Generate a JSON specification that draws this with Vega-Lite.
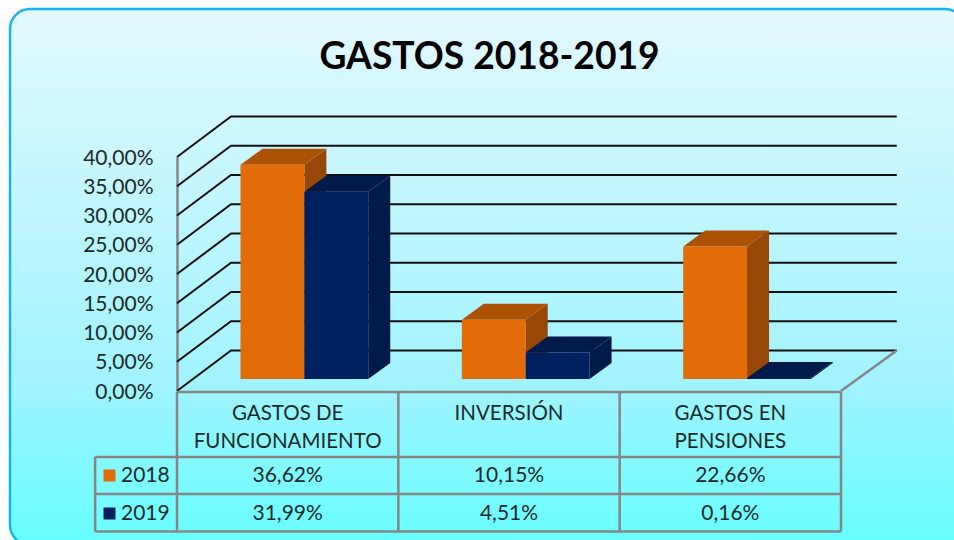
{
"$schema":"https://vega.github.io/schema/vega-lite/v6.json",
"width":955,"height":536,
"padding":{"left":10,"top":9,"right":0,"bottom":0},
"autosize":"none",
"background":"#ffffff",
"view":{"cornerRadius":20,"stroke":"#14b4f0","strokeWidth":2.5,"fill":{"x1":0,"y1":0,"x2":0,"y2":1,"gradient":"linear","stops":[{"offset":0,"color":"#e3f8ff"},{"offset":0.7,"color":"#a0f3ff"},{"offset":1,"color":"#66ffff"}]}},
"title":{"text":"GASTOS 2018-2019","font":"Lato","fontSize":37.2,"fontWeight":"bold","color":"#000000","anchor":"middle","offset":-68,"dx":2},
"datasets":{
"gastos":[
{"categoria":"GASTOS DE FUNCIONAMIENTO","serie":"2018","valor":36.62},
{"categoria":"GASTOS DE FUNCIONAMIENTO","serie":"2019","valor":31.99},
{"categoria":"INVERSIÓN","serie":"2018","valor":10.15},
{"categoria":"INVERSIÓN","serie":"2019","valor":4.51},
{"categoria":"GASTOS EN PENSIONES","serie":"2018","valor":22.66},
{"categoria":"GASTOS EN PENSIONES","serie":"2019","valor":0.16}],
"niveles":[{"nivel":0},{"nivel":5},{"nivel":10},{"nivel":15},{"nivel":20},{"nivel":25},{"nivel":30},{"nivel":35},{"nivel":40}],
"encabezados":[
{"categoria":"GASTOS DE FUNCIONAMIENTO","lineas":["GASTOS DE","FUNCIONAMIENTO"]},
{"categoria":"INVERSIÓN","lineas":["INVERSIÓN"]},
{"categoria":"GASTOS EN PENSIONES","lineas":["GASTOS EN","PENSIONES"]}],
"lineasH":[{"linea":"superior"},{"linea":"cabecera"},{"linea":"2018"},{"linea":"2019"}],
"lineasV":[{"columna":"leyenda"},{"columna":"c0"},{"columna":"c1"},{"columna":"c2"},{"columna":"c3"}]
},
"data":{"name":"gastos"},
"transform":[
{"calculate":"indexof(['GASTOS DE FUNCIONAMIENTO','INVERSIÓN','GASTOS EN PENSIONES'],datum.categoria)","as":"idx"},
{"calculate":"datum.idx+0.287+(datum.serie=='2019'?0.2885:0)","as":"xl"},
{"calculate":"datum.xl+0.2885","as":"xr"},
{"calculate":"datum.valor+2.05","as":"ytop"},
{"calculate":"2.05","as":"ybase"},
{"calculate":"datum.categoria+datum.serie","as":"clave"},
{"calculate":"[0,1]","as":"t"},
{"flatten":["t"]},
{"calculate":"datum.xr+datum.t*0.0994","as":"sx"},
{"calculate":"datum.ybase+datum.t*2.735","as":"sy"},
{"calculate":"datum.ytop+datum.t*2.735","as":"sy2"},
{"calculate":"datum.xl+datum.t*0.0994","as":"tx"}
],
"layer":[
{
"data":{"name":"niveles"},
"transform":[
{"calculate":"[0,1,2]","as":"t"},{"flatten":["t"]},
{"calculate":"datum.t==0?0:(datum.t==1?0.244:3.252)","as":"gx"},
{"calculate":"datum.nivel+(datum.t>0?6.92:0)","as":"gy"}],
"mark":{"type":"line","stroke":"#111111","strokeWidth":2,"interpolate":"linear","clip":false},
"encoding":{
"x":{"field":"gx","type":"quantitative","scale":{"domain":[0,3],"range":[167,831],"nice":false,"zero":false},"axis":null},
"y":{"field":"gy","type":"quantitative","scale":{"domain":[0,40],"range":[382,148],"nice":false,"zero":false},
"axis":{"values":[0,5,10,15,20,25,30,35,40],"offset":-167,"title":null,"grid":false,"ticks":false,"domain":true,"domainColor":"#868686","domainWidth":2.5,"labelPadding":24,"labelOffset":1,"labelFont":"Lato","labelFontSize":21,"labelColor":"#1b2b2b","labelExpr":"replace(format(datum.value,'.2f'),'.',',')+'%'"}},
"detail":{"field":"nivel","type":"nominal"},
"order":{"field":"t","type":"quantitative"}}
},
{
"data":{"name":"niveles"},
"transform":[{"filter":"datum.nivel==0"},{"calculate":"[0,1]","as":"t"},{"flatten":["t"]},
{"calculate":"3+datum.t*0.252","as":"gx"},{"calculate":"datum.t*6.92","as":"gy"}],
"mark":{"type":"line","stroke":"#868686","strokeWidth":2.5},
"encoding":{
"x":{"field":"gx","type":"quantitative","scale":{"domain":[0,3],"range":[167,831],"nice":false,"zero":false},"axis":null},
"y":{"field":"gy","type":"quantitative","scale":{"domain":[0,40],"range":[382,148],"nice":false,"zero":false},"axis":null}}
},
{
"mark":{"type":"area"},
"encoding":{
"x":{"field":"sx","type":"quantitative","scale":{"domain":[0,3],"range":[167,831],"nice":false,"zero":false},"axis":null},
"y":{"field":"sy","type":"quantitative","scale":{"domain":[0,40],"range":[382,148],"nice":false,"zero":false},"axis":null},
"y2":{"field":"sy2"},
"detail":{"field":"clave","type":"nominal"},
"color":{"field":"serie","type":"nominal","scale":{"domain":["2018","2019"],"range":["#974706","#001a4a"]},"legend":null}}
},
{
"mark":{"type":"area","orient":"horizontal"},
"encoding":{
"y":{"field":"sy2","type":"quantitative","scale":{"domain":[0,40],"range":[382,148],"nice":false,"zero":false},"axis":null},
"x":{"field":"tx","type":"quantitative","scale":{"domain":[0,3],"range":[167,831],"nice":false,"zero":false},"axis":null},
"x2":{"field":"sx"},
"detail":{"field":"clave","type":"nominal"},
"color":{"field":"serie","type":"nominal","scale":{"domain":["2018","2019"],"range":["#ab5205","#001a4a"]},"legend":null}}
},
{
"transform":[{"filter":"datum.t==0"}],
"mark":{"type":"rect"},
"encoding":{
"x":{"field":"xl","type":"quantitative","scale":{"domain":[0,3],"range":[167,831],"nice":false,"zero":false},"axis":null},
"x2":{"field":"xr"},
"y":{"field":"ytop","type":"quantitative","scale":{"domain":[0,40],"range":[382,148],"nice":false,"zero":false},"axis":null},
"y2":{"field":"ybase"},
"color":{"field":"serie","type":"nominal","scale":{"domain":["2018","2019"],"range":["#e36c09","#002060"]},
"legend":{"orient":"none","legendX":89,"legendY":456,"title":null,"symbolType":"square","symbolSize":144,"symbolStrokeWidth":0,"labelFont":"Lato","labelFontSize":21,"labelColor":"#1b2b2b","rowPadding":16,"labelOffset":1,"padding":0}}}
},
{
"data":{"name":"lineasH"},
"transform":[
{"calculate":"{'superior':0,'cabecera':1.73,'2018':2.72,'2019':3.72}[datum.linea]","as":"fila"},
{"calculate":"datum.linea=='superior'?0:-0.37","as":"xini"},
{"calculate":"3","as":"xfin"}],
"mark":{"type":"rule","stroke":"#868686","strokeWidth":2.5},
"encoding":{
"x":{"field":"xini","type":"quantitative","scale":{"domain":[0,3],"range":[167,831],"nice":false,"zero":false},"axis":null},
"x2":{"field":"xfin"},
"y":{"field":"fila","type":"quantitative","scale":{"domain":[0,4],"range":[383,533],"nice":false,"zero":false},"axis":null}}
},
{
"data":{"name":"lineasV"},
"transform":[
{"calculate":"{'leyenda':-0.37,'c0':0,'c1':1,'c2':2,'c3':3}[datum.columna]","as":"cx"},
{"calculate":"datum.columna=='leyenda'?1.73:0","as":"fini"},
{"calculate":"3.72","as":"ffin"}],
"mark":{"type":"rule","stroke":"#868686","strokeWidth":2.5},
"encoding":{
"x":{"field":"cx","type":"quantitative","scale":{"domain":[0,3],"range":[167,831],"nice":false,"zero":false},"axis":null},
"y":{"field":"fini","type":"quantitative","scale":{"domain":[0,4],"range":[383,533],"nice":false,"zero":false},"axis":null},
"y2":{"field":"ffin"}}
},
{
"data":{"name":"encabezados"},
"transform":[
{"calculate":"indexof(['GASTOS DE FUNCIONAMIENTO','INVERSIÓN','GASTOS EN PENSIONES'],datum.categoria)+0.5","as":"cx"},
{"calculate":"0.33","as":"fila"}],
"mark":{"type":"text","font":"Lato","fontSize":20.5,"color":"#1b2b2b","baseline":"top","align":"center","lineHeight":28},
"encoding":{
"x":{"field":"cx","type":"quantitative","scale":{"domain":[0,3],"range":[167,831],"nice":false,"zero":false},"axis":null},
"y":{"field":"fila","type":"quantitative","scale":{"domain":[0,4],"range":[383,533],"nice":false,"zero":false},"axis":null},
"text":{"field":"lineas"}}
},
{
"transform":[
{"filter":"datum.t==0"},
{"calculate":"datum.idx+0.5","as":"cx"},
{"calculate":"datum.serie=='2018'?2.25:3.25","as":"fila"},
{"calculate":"replace(format(datum.valor,'.2f'),'.',',')+'%'","as":"etiqueta"}],
"mark":{"type":"text","font":"Lato","fontSize":21,"color":"#1b2b2b","baseline":"middle","align":"center"},
"encoding":{
"x":{"field":"cx","type":"quantitative","scale":{"domain":[0,3],"range":[167,831],"nice":false,"zero":false},"axis":null},
"y":{"field":"fila","type":"quantitative","scale":{"domain":[0,4],"range":[383,533],"nice":false,"zero":false},"axis":null},
"text":{"field":"etiqueta"}}
}
],
"resolve":{"scale":{"y":"independent","color":"independent"}}
}
